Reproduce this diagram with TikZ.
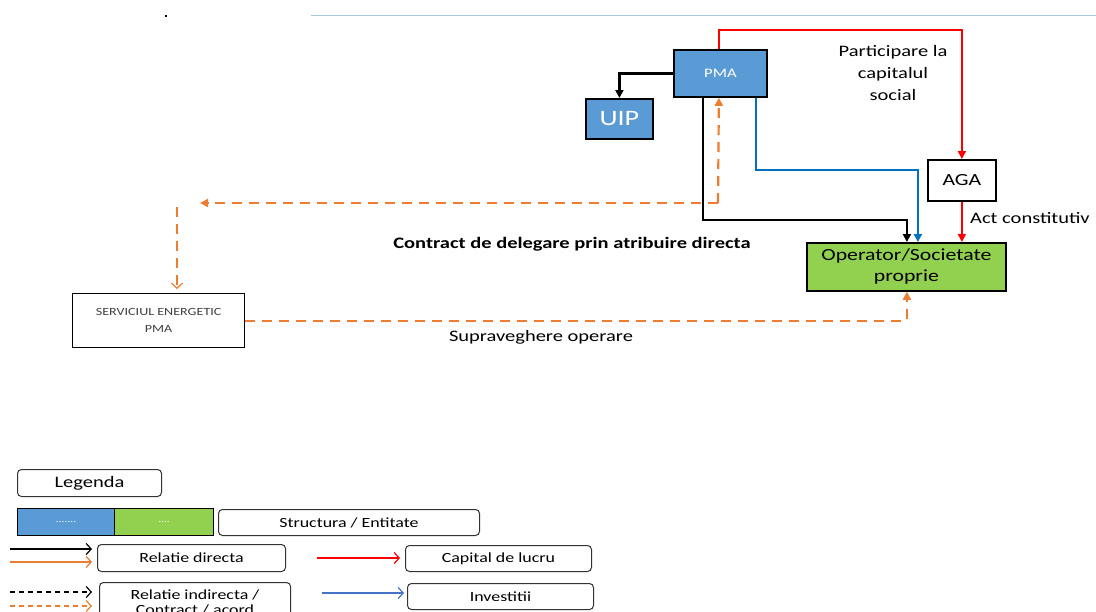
\documentclass[tikz,border=0pt]{standalone}
\usepackage{fontspec}
\setmainfont{Carlito}[FakeStretch=1.28]
\usetikzlibrary{arrows.meta}
\definecolor{boxblue}{HTML}{5B9BD5}
\definecolor{boxgreen}{HTML}{92D050}
\definecolor{lineblue}{HTML}{0070C0}
\definecolor{legblue}{HTML}{4472C4}
\definecolor{orangeln}{HTML}{ED7D31}
\definecolor{redln}{HTML}{FF0000}
\definecolor{topline}{HTML}{A5C8D9}
\definecolor{txtgray}{HTML}{404040}
\begin{document}
\begin{tikzpicture}[x=1pt,y=-1pt,
  box/.style={draw=black, line width=1.8pt, inner sep=0pt, anchor=north west, align=center},
  legbox/.style={draw=black!80, line width=1pt, rounded corners=4pt, inner sep=0pt, anchor=north west, align=center, font=\fontsize{14}{16}\selectfont},
  conn/.style={line width=2.2pt},
  tri/.style={-{Triangle[length=8pt,width=8pt]}},
  barb/.style={-{Straight Barb[length=5pt,width=11pt,line width=1.2pt]}},
  ordash/.style={conn, orangeln, dash pattern=on 10pt off 7pt},
  legln/.style={line width=1.5pt, barb},
  lbl/.style={font=\fontsize{16}{22}\selectfont, align=center, inner sep=0pt}]
\clip (0,0) rectangle (1096,611);
\fill[white] (0,0) rectangle (1096,611);
% top rule and stray dot
\draw[topline, line width=1pt] (311,15) -- (1096,15);
\fill[black] (164.5,14.5) rectangle (166.5,16.5);
% boxes
\node[box, fill=boxblue, minimum width=93pt, minimum height=47pt, text=white, font=\fontsize{13}{15}\selectfont] (pma) at (673,49) {PMA};
\node[box, fill=boxblue, minimum width=67pt, minimum height=40pt, text=white, font=\fontsize{22}{24}\selectfont] (uip) at (585,98) {UIP};
\node[box, fill=white, minimum width=68pt, minimum height=41pt, font=\fontsize{17}{19}\selectfont] (aga) at (927,159) {AGA};
\node[box, fill=boxgreen, minimum width=199pt, minimum height=48pt, font=\fontsize{17}{21}\selectfont] (op) at (806,242) {Operator/Societate\\proprie};
\node[box, line width=1.3pt, fill=white, minimum width=172pt, minimum height=54pt, text=txtgray, font=\fontsize{11}{17}\selectfont] (serv) at (72,293) {SERVICIUL ENERGETIC\\PMA};
% labels
\node[lbl, anchor=north] (lpart) at (893,45) {Participare la\\capitalul\\social};
\node[lbl, anchor=west] (lact) at (970,218) {Act constitutiv};
\node[lbl, font=\bfseries\fontsize{16}{18}\selectfont] (lcon) at (572,244) {Contract de delegare prin atribuire directa};
\node[lbl, font=\fontsize{16}{18}\selectfont] (lsup) at (541,337) {Supraveghere operare};
% connectors
\draw[conn, tri] (pma.west) -| (uip.north);
\draw[conn, redln, tri] ([xshift=-1.5pt]pma.north) -- ++(0,-19) -| (aga.north);
\draw[conn, redln, line width=1.5pt, tri] (aga.south) -- ([xshift=55.5pt]op.north);
\draw[conn, black, tri] ([xshift=-17.5pt]pma.south) |- ([xshift=0.5pt,yshift=22pt]op.north) -- ([xshift=0.5pt]op.north);
\draw[conn, lineblue, tri] ([xshift=35.5pt]pma.south) |- ([xshift=11.5pt,yshift=72pt]op.north) -- ([xshift=11.5pt]op.north);
\coordinate (oc) at (718,203);
\coordinate (ol) at (200,203);
\coordinate (ot) at (177,207);
\draw[ordash, tri] (oc) -- ([xshift=-1.5pt]pma.south);
\draw[ordash, tri] (oc) -- (ol);
\draw[ordash, barb, shorten >=4pt] (ot) -- (serv.north -| ot);
\draw[ordash, tri] (serv.east) -| ([xshift=0.5pt]op.south);
% legend
\node[legbox, minimum width=144pt, minimum height=27pt, font=\fontsize{16}{18}\selectfont] (leg) at (17,469) {Legenda};
\node[box, line width=1.2pt, fill=boxblue, minimum width=97pt, minimum height=27pt, text=white, font=\fontsize{9}{10}\selectfont] (lb) at (17,508) {.......};
\node[box, line width=1.2pt, fill=boxgreen, minimum width=99pt, minimum height=27pt, text=white, font=\fontsize{9}{10}\selectfont] (lg) at (114,508) {....};
\node[legbox, minimum width=261pt, minimum height=26pt] (lse) at (218,509) {Structura / Entitate};
\node[legbox, minimum width=188pt, minimum height=27pt] (lrd) at (97,544) {Relatie directa};
\node[legbox, minimum width=186pt, minimum height=26pt] (lcl) at (405,545) {Capital de lucru};
\node[legbox, minimum width=191pt, minimum height=40pt, font=\fontsize{14}{15}\selectfont] (lri) at (99,582) {Relatie indirecta /\\Contract / acord};
\node[legbox, minimum width=186pt, minimum height=26pt] (linv) at (407,583) {Investitii};
\coordinate (a1s) at (10,549); \coordinate (a1e) at (92,549);
\coordinate (a2s) at (10,562); \coordinate (a2e) at (92,562);
\coordinate (a3s) at (10,592); \coordinate (a3e) at (92,592);
\coordinate (a4s) at (10,606); \coordinate (a4e) at (92,606);
\coordinate (a5s) at (317,558); \coordinate (a5e) at (400,558);
\coordinate (a6s) at (322,593); \coordinate (a6e) at (404,593);
\draw[legln, black] (a1s) -- (a1e);
\draw[legln, orangeln] (a2s) -- (a2e);
\draw[legln, black, dash pattern=on 5pt off 4pt] (a3s) -- (a3e);
\draw[legln, orangeln, dash pattern=on 5pt off 4pt] (a4s) -- (a4e);
\draw[legln, redln, line width=1.8pt] (a5s) -- (a5e);
\draw[legln, legblue] (a6s) -- (a6e);
\end{tikzpicture}
\end{document}
